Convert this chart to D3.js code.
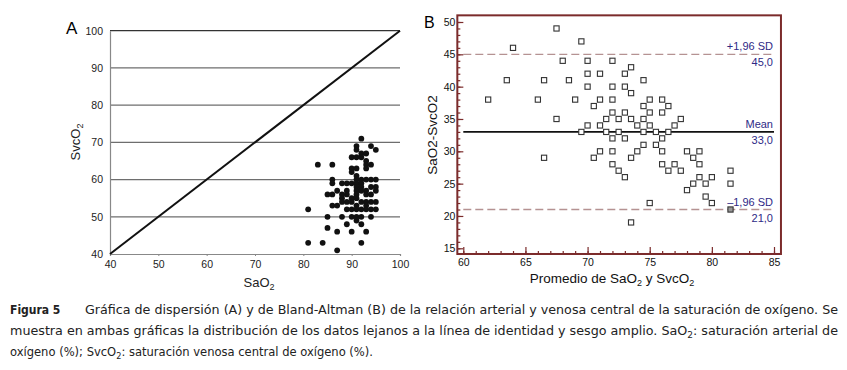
<!DOCTYPE html>
<html>
<head>
<meta charset="utf-8">
<script src="https://cdn.jsdelivr.net/npm/d3@7"></script>
<style>
  body { margin: 0; background: #fff; }
  svg { display: block; }
</style>
</head>
<body>
<div id="chart-area"></div>
<script>
var width = 847;
var height = 370;

// Panel A data: SaO2 vs SvcO2
var aSaO2 = [81, 81, 83, 84, 85, 85, 85,
  86, 86, 86, 86, 86, 87, 87, 87, 87,
  88, 88, 88, 88, 88, 89, 89, 89, 89, 89, 89,
  90, 90, 90, 90, 90, 90, 90, 90, 90,
  91, 91, 91, 91, 91, 91, 91, 91, 91, 91, 91, 91, 91, 91, 91,
  92, 92, 92, 92, 92, 92, 92, 92, 92, 92, 92, 92,
  93, 93, 93, 93, 93, 93, 93, 93, 93, 93, 93,
  94, 94, 94, 94, 94, 94, 94, 94,
  95, 95, 95, 95, 95, 95];
var aSvcO2 = [52, 43, 64, 43, 56, 50, 47,
  64, 60, 59, 56, 53, 57, 53, 46, 41,
  59, 56, 55, 54, 50, 59, 57, 56, 54, 52, 48,
  66, 63, 62, 59, 55, 54, 52, 50, 46,
  69, 68, 66, 63, 61, 60, 59, 58, 57, 56, 55, 53, 52, 50, 49,
  71, 67, 66, 60, 59, 58, 57, 54, 52, 50, 48, 43,
  67, 65, 64, 63, 60, 57, 56, 54, 53, 52, 46,
  69, 64, 60, 58, 56, 54, 52, 50,
  68, 60, 58, 57, 54, 52];
var aTicks = [40, 50, 60, 70, 80, 90, 100];

// Panel B data: Bland-Altman (mean vs difference)
var bMean = [67.5, 69.5, 64, 68, 70, 72, 73.5, 73, 70, 71,
  63.5, 66.5, 68.5, 74.5, 70, 72, 73, 73.5,
  62, 66, 69, 71, 72, 75, 76, 70.5, 74.5, 76.5,
  72, 73, 75, 76, 67.5, 71.5, 72.5, 73.5, 74.5, 77.5,
  70, 71, 74, 75, 77, 69.5, 71.5, 72.5, 74.5, 75.5, 76.5,
  72, 73, 76, 74.5, 75.5, 66.5, 71, 72, 74, 76, 78, 79,
  70.5, 73.5, 78.5, 72, 76, 77, 79, 72.5, 76.5, 77.5, 81.5,
  73, 79, 80, 78.5, 79.5, 81.5, 78, 79.5, 80, 75, 81.5, 73.5];
var bDiff = [49, 47, 46, 44, 44, 44, 43, 42, 42, 42,
  41, 41, 41, 41, 40, 40, 40, 39,
  38, 38, 38, 38, 38, 38, 38, 37, 37, 37,
  36, 36, 36, 36, 35, 35, 35, 35, 35, 35,
  34, 34, 34, 34, 34, 33, 33, 33, 33, 33, 33,
  32, 32, 32, 31, 31, 29, 30, 30, 30, 30, 30, 30,
  29, 29, 29, 28, 28, 28, 28, 27, 27, 27, 27,
  26, 26, 26, 25, 25, 25, 24, 23, 22, 22, 21, 19];
var bMeanDiff = 33;
var bUpper = 45;
var bLower = 21;
var bTicksX = [60, 65, 70, 75, 80, 85];
var bTicksY = [15, 20, 25, 30, 35, 40, 45, 50];

var captionLines = [
  "Gráfica de dispersión (A) y de Bland-Altman (B) de la relación arterial y venosa central de la saturación de oxígeno. Se",
  ["muestra en ambas gráficas la distribución de los datos lejanos a la línea de identidad y sesgo amplio. SaO", "2", ": saturación arterial de"],
  ["oxígeno (%); SvcO", "2", ": saturación venosa central de oxígeno (%)."]
];

var svg = d3.select("#chart-area")
  .append("svg")
  .attr("width", width)
  .attr("height", height)
  .style("font-family", "'Liberation Sans', Arial, sans-serif");

// ---------- Panel A ----------
var xA = d3.scaleLinear().domain([40, 100]).range([110, 400]);
var yA = d3.scaleLinear().domain([40, 100]).range([254, 30.7]);

var gA = svg.append("g");

// gridlines
gA.selectAll("line.grid")
  .data(aTicks.slice(1))
  .enter()
  .append("line")
  .attr("class", "grid")
  .attr("x1", xA(40)).attr("x2", xA(100))
  .attr("y1", function(d) { return yA(d); })
  .attr("y2", function(d) { return yA(d); })
  .attr("stroke", function(d) { return d === 100 ? "#333" : "#6e6e6e"; })
  .attr("stroke-width", 1.2);

var axA_y = gA.append("g")
  .attr("transform", "translate(" + xA(40) + ",0)")
  .call(d3.axisLeft(yA).tickValues(aTicks).tickSize(0).tickPadding(7));
var axA_x = gA.append("g")
  .attr("transform", "translate(0," + yA(40) + ")")
  .call(d3.axisBottom(xA).tickValues(aTicks).tickSize(2).tickPadding(5));
[axA_y, axA_x].forEach(function(ax) {
  ax.select(".domain").attr("stroke", "#888").attr("stroke-width", 1.2);
  ax.selectAll(".tick line").attr("stroke", "#888");
  ax.selectAll("text").attr("font-size", 10.5).attr("fill", "#222")
    .attr("font-family", "'Liberation Sans', Arial, sans-serif");
});

// identity line
gA.append("line")
  .attr("x1", xA(40)).attr("y1", yA(40))
  .attr("x2", xA(100)).attr("y2", yA(100))
  .attr("stroke", "#111")
  .attr("stroke-width", 2);

gA.selectAll("circle")
  .data(aSaO2)
  .enter()
  .append("circle")
  .attr("cx", function(d) { return xA(d); })
  .attr("cy", function(d, i) { return yA(aSvcO2[i]); })
  .attr("r", 2.9)
  .attr("fill", "#111");

gA.append("text").attr("x", 66).attr("y", 34).attr("font-size", 17).text("A");

var aYLab = gA.append("text")
  .attr("transform", "translate(80,142) rotate(-90)")
  .attr("text-anchor", "middle")
  .attr("font-size", 13)
  .attr("fill", "#222");
aYLab.append("tspan").text("SvcO");
aYLab.append("tspan").attr("font-size", 9).attr("dy", 3).text("2");

var aXLab = gA.append("text")
  .attr("x", 259).attr("y", 287)
  .attr("text-anchor", "middle")
  .attr("font-size", 13)
  .attr("fill", "#222");
aXLab.append("tspan").text("SaO");
aXLab.append("tspan").attr("font-size", 9).attr("dy", 3).text("2");

// ---------- Panel B ----------
var xB = d3.scaleLinear().domain([60, 85]).range([463.3, 774]);
var yB = d3.scaleLinear().domain([15, 50]).range([248.3, 22]);
var frameColor = "#7b2b2b";
var gB = svg.append("g");

var fx0 = xB(59.52), fx1 = xB(85.56), fy0 = yB(51.03), fy1 = yB(14.12);

// limit lines
[bUpper, bLower].forEach(function(v) {
  gB.append("line")
    .attr("x1", xB(60)).attr("x2", xB(85))
    .attr("y1", yB(v)).attr("y2", yB(v))
    .attr("stroke", "#b59292")
    .attr("stroke-width", 1.4)
    .attr("stroke-dasharray", "8,4");
});
gB.append("line")
  .attr("x1", xB(60)).attr("x2", xB(85))
  .attr("y1", yB(bMeanDiff)).attr("y2", yB(bMeanDiff))
  .attr("stroke", "#111")
  .attr("stroke-width", 1.6);

// points
gB.selectAll("rect.pt")
  .data(bMean)
  .enter()
  .append("rect")
  .attr("class", "pt")
  .attr("x", function(d) { return xB(d) - 2.6; })
  .attr("y", function(d, i) { return yB(bDiff[i]) - 2.6; })
  .attr("width", 5.2)
  .attr("height", 5.2)
  .attr("fill", function(d, i) { return bDiff[i] === bLower ? "#999" : "#fff"; })
  .attr("stroke", "#333")
  .attr("stroke-width", 1.1);

// minor and major ticks (inward)
var axB_yMinor = gB.append("g").attr("transform", "translate(" + fx0 + ",0)")
  .call(d3.axisLeft(yB).tickValues(d3.range(15, 51)).tickSize(-3).tickFormat(""));
var axB_y = gB.append("g").attr("transform", "translate(" + fx0 + ",0)")
  .call(d3.axisLeft(yB).tickValues(bTicksY).tickSize(-6).tickPadding(2));
var axB_xMinor = gB.append("g").attr("transform", "translate(0," + fy1 + ")")
  .call(d3.axisBottom(xB).tickValues(d3.range(60, 86)).tickSize(-3).tickFormat(""));
var axB_x = gB.append("g").attr("transform", "translate(0," + fy1 + ")")
  .call(d3.axisBottom(xB).tickValues(bTicksX).tickSize(-7).tickPadding(5));
[axB_yMinor, axB_y, axB_xMinor, axB_x].forEach(function(ax) {
  ax.select(".domain").remove();
  ax.selectAll(".tick line").attr("stroke", frameColor).attr("stroke-width", 1.2);
  ax.selectAll("text").attr("font-size", 10.5).attr("fill", "#111")
    .attr("font-family", "'Liberation Sans', Arial, sans-serif");
});

gB.append("rect")
  .attr("x", fx0).attr("y", fy0)
  .attr("width", fx1 - fx0).attr("height", fy1 - fy0)
  .attr("fill", "none")
  .attr("stroke", frameColor)
  .attr("stroke-width", 2);

// limit labels
var labColor = "#2e2a86";
var bLabels = [
  { v: bUpper, top: "+1,96 SD", bottom: "45,0" },
  { v: bMeanDiff, top: "Mean", bottom: "33,0" },
  { v: bLower, top: "\u20131,96 SD", bottom: "21,0" }
];
bLabels.forEach(function(l) {
  gB.append("text").attr("x", xB(85) - 1).attr("y", yB(l.v) - 4)
    .attr("text-anchor", "end").attr("font-size", 11).attr("fill", labColor).text(l.top);
  gB.append("text").attr("x", xB(85) - 1).attr("y", yB(l.v) + 12)
    .attr("text-anchor", "end").attr("font-size", 11).attr("fill", labColor).text(l.bottom);
});

gB.append("text").attr("x", 424).attr("y", 28).attr("font-size", 16).text("B");

gB.append("text")
  .attr("transform", "translate(437,135) rotate(-90)")
  .attr("text-anchor", "middle")
  .attr("font-size", 13.5)
  .attr("fill", "#111")
  .text("SaO2-SvcO2");

var bXLab = gB.append("text")
  .attr("x", 612).attr("y", 283)
  .attr("text-anchor", "middle")
  .attr("font-size", 13.5)
  .attr("fill", "#111");
bXLab.append("tspan").text("Promedio de SaO");
bXLab.append("tspan").attr("font-size", 9).attr("dy", 3).text("2");
bXLab.append("tspan").attr("dy", -3).text(" y SvcO");
bXLab.append("tspan").attr("font-size", 9).attr("dy", 3).text("2");

// ---------- Caption ----------
var capFont = "'DejaVu Sans Condensed', 'DejaVu Sans', sans-serif";
var cap = svg.append("g").attr("font-family", capFont).attr("font-size", 12).attr("fill", "#222");
cap.append("text").attr("x", 10).attr("y", 314).attr("font-weight", "bold").text("Figura 5");
cap.append("text").attr("x", 85).attr("y", 314)
  .attr("textLength", 753).attr("lengthAdjust", "spacingAndGlyphs")
  .text(captionLines[0]);

function subLine(parts, y, len) {
  var t = cap.append("text").attr("x", 10).attr("y", y)
    .attr("textLength", len).attr("lengthAdjust", "spacingAndGlyphs");
  t.append("tspan").text(parts[0]);
  t.append("tspan").attr("font-size", 8.5).attr("dy", 3).text(parts[1]);
  t.append("tspan").attr("dy", -3).text(parts[2]);
}
subLine(captionLines[1], 335, 828);
subLine(captionLines[2], 356, 363);
</script>
</body>
</html>
